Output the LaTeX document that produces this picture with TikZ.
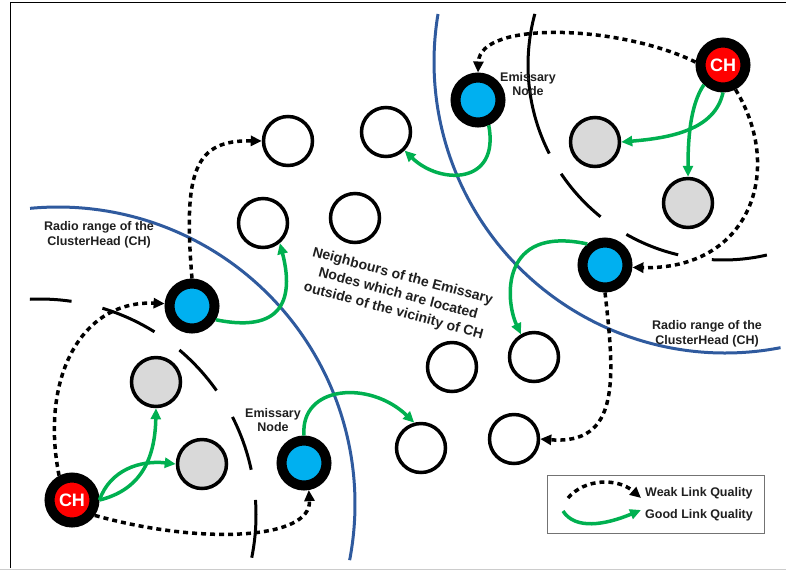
\documentclass[tikz,border=0pt]{standalone}
\usepackage{fontspec}
\setmainfont{Liberation Sans}
\usetikzlibrary{arrows.meta}
\definecolor{nodeblue}{HTML}{00B0F0}
\definecolor{chred}{HTML}{FF0000}
\definecolor{nodegrey}{HTML}{D9D9D9}
\definecolor{linkgreen}{HTML}{00B050}
\definecolor{rangeblue}{HTML}{2F5A9E}
\begin{document}
\begin{tikzpicture}[x=1pt,y=-1pt,
 plainnode/.style={circle,draw=black,line width=3.5pt,minimum size=49pt,inner sep=0pt,fill=white},
 greynode/.style={plainnode,fill=nodegrey},
 emnode/.style={circle,draw=black,line width=10pt,fill=nodeblue,minimum size=45pt,inner sep=0pt},
 chnode/.style={circle,draw=black,line width=10pt,fill=chred,minimum size=45pt,inner sep=0pt,text=white,font=\bfseries\fontsize{18}{20}\selectfont},
 weak/.style={draw=black,line width=3.5pt,dash pattern=on 5pt off 4pt,-{Triangle[length=11pt,width=10pt]}},
 good/.style={draw=linkgreen,line width=3.5pt,-{Triangle[length=11pt,width=10pt]}},
 rangearc/.style={line width=3pt,draw=black},
 radio/.style={line width=3pt,draw=rangeblue},
 lbl/.style={align=center,inner sep=0pt,font=\bfseries\fontsize{12.5}{14.5}\selectfont,text=black!88},
]
\useasboundingbox (0,0) rectangle (786,571);
% frame
\draw[line width=1pt] (10,568) -- (10,2) -- (786,2);
\draw[black!20,line width=1.2pt] (0,569.5) -- (786,569.5);
% radio ranges
\draw[radio] (58,504) ++(95.4:297pt) arc[start angle=95.4,end angle=-10.9,radius=297pt];
\draw[radio] (725,62) ++(170.5:291pt) arc[start angle=170.5,end angle=281,radius=291pt];
% vicinity arcs
\foreach \a/\b in {92.7/81.6, 73.2/58.0, 49.8/35.2, 27.0/12.1, 4.0/-11.4}
  \draw[rangearc] (40,515) ++(\a:216pt) arc[start angle=\a,end angle=\b,radius=216pt];
\foreach \a/\b in {164.8/207.0, 213.9/231.1, 240.3/256.7, 266.7/283.0}
  \draw[rangearc] (723,65) ++(\a:195pt) arc[start angle=\a,end angle=\b,radius=195pt];
% nodes
\node[plainnode] (w1) at (288,141) {};
\node[plainnode] (w2) at (386,132) {};
\node[plainnode] (w3) at (263,223) {};
\node[plainnode] (w4) at (355,218) {};
\node[plainnode] (w5) at (452,367) {};
\node[plainnode] (w6) at (534,357) {};
\node[plainnode] (w7) at (421,448) {};
\node[plainnode] (w8) at (514,439) {};
\node[greynode] (g1) at (595,142) {};
\node[greynode] (g2) at (688,203) {};
\node[greynode] (g3) at (156,382) {};
\node[greynode] (g4) at (202,464) {};
\node[emnode] (e1) at (478,100) {};
\node[emnode] (e2) at (605,265) {};
\node[emnode] (e3) at (192,306) {};
\node[emnode] (e4) at (304,463) {};
\node[chnode] (ch1) at (723,65) {CH};
\node[chnode] (ch2) at (72,500) {CH};
% weak links
\draw[weak] (ch1.174) .. controls (620,25) and (480,20) .. (e1.north);
\draw[weak] (ch1.-63) .. controls (785,170) and (750,270) .. (e2.-5);
\draw[weak] (e2.south) .. controls (615,380) and (620,445) .. (w8.east);
\draw[weak] (e3.north) .. controls (183,170) and (195,140) .. (w1.west);
\draw[weak] (ch2.118) .. controls (40,380) and (80,300) .. (e3.175);
\draw[weak] (ch2.-34) .. controls (200,545) and (312,540) .. (e4.-80);
% good links
\draw[good] (ch1.south) .. controls (715,130) and (670,138) .. (g1.east);
\draw[good] (ch1.-134) .. controls (690,105) and (688,140) .. (g2.north);
\draw[good] (e1.-67) .. controls (500,185) and (440,185) .. (w2.-45);
\draw[good] (e2.130) .. controls (500,225) and (505,300) .. (w6.120);
\draw[good] (e3.-30) .. controls (290,335) and (292,290) .. (w3.-50);
\draw[good] (e4.north) .. controls (300,385) and (370,380) .. (w7.105);
\draw[good] (ch2.east) .. controls (140,490) and (155,460) .. (g3.south);
\draw[good] (ch2.east) .. controls (110,470) and (140,460) .. (g4.west);
% labels
\node[lbl] (rr1) at (99,235) {Radio range of the\\ClusterHead (CH)};
\node[lbl] (rr2) at (707,334) {Radio range of the\\ClusterHead (CH)};
\node[lbl] (em1) at (528,84) {Emissary\\Node};
\node[lbl] (em2) at (273,420) {Emissary\\Node};
\node[lbl,rotate=-15,font=\bfseries\fontsize{14}{18}\selectfont] (nb) at (398,294)
  {Neighbours of the Emissary\\Nodes which are located\\outside of the vicinity of CH};
% legend
\node[draw=black!55,line width=1pt,minimum width=217pt,minimum height=58pt,inner sep=0pt] (legend) at (655.5,504) {};
\coordinate (wk1) at (568,498);
\coordinate (wk2) at (641,498);
\coordinate (gd1) at (563,511);
\coordinate (gd2) at (641,510);
\draw[weak] (wk1) .. controls (585,478) and (618,478) .. (wk2);
\draw[good] (gd1) .. controls (575,530) and (605,525) .. (gd2);
\node[lbl,anchor=west] (lw) at (645,493) {Weak Link Quality};
\node[lbl,anchor=west] (lg) at (645,515) {Good Link Quality};
\end{tikzpicture}
\end{document}
